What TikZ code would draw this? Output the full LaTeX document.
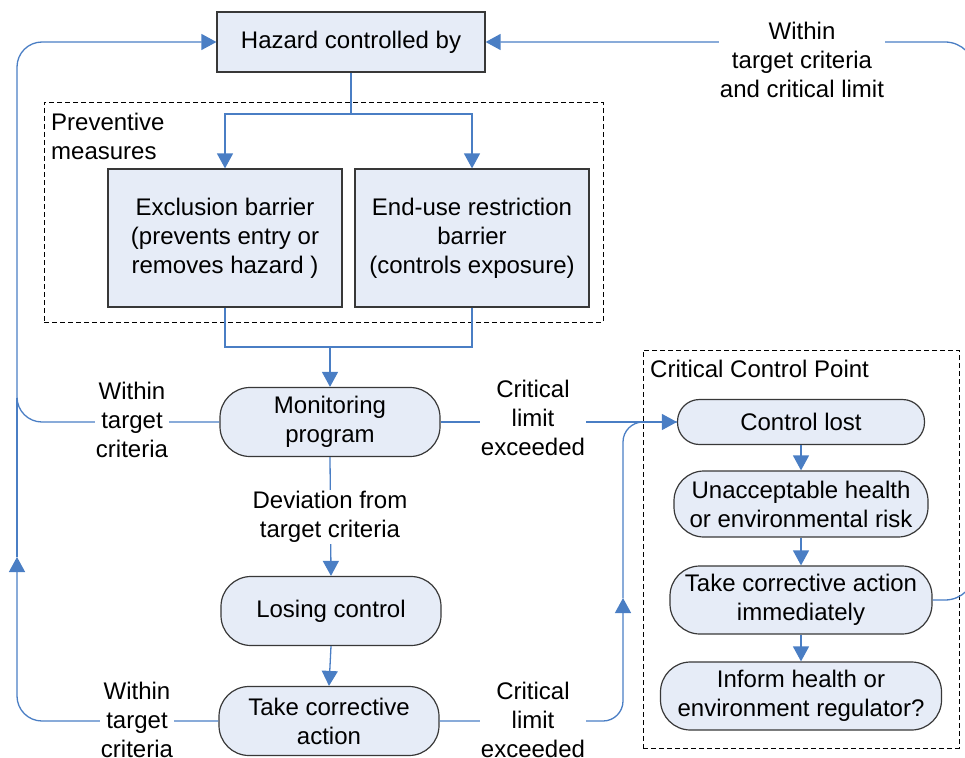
\documentclass[tikz,border=0pt]{standalone}
\usepackage{fontspec}
\setmainfont{Liberation Sans}
\usetikzlibrary{arrows.meta}
\definecolor{lineblue}{HTML}{4A7EC4}
\definecolor{boxfill}{HTML}{E6ECF7}
\definecolor{boxdraw}{HTML}{383838}
\begin{document}
\begin{tikzpicture}[x=1pt,y=-1pt, font=\fontsize{24}{29}\selectfont,
  box/.style={draw=boxdraw, fill=boxfill, line width=1.2pt, inner sep=0pt, align=center},
  rbox/.style={box, rounded corners=30pt},
  flow/.style={draw=lineblue, line width=1.3pt},
  arr/.style={flow, -{Triangle[length=15pt,width=16pt]}},
  lbl/.style={fill=white, inner sep=1pt, align=center},
  grp/.style={draw=black, dash pattern=on 5pt off 3pt, line width=0.9pt, inner sep=0pt}]
\useasboundingbox (0,0) rectangle (965,757);
\clip (0,0) rectangle (965,757);
% groups
\node[grp, minimum width=559pt, minimum height=220pt] (prevgrp) at (323.5,212) {};
\node[grp, minimum width=316pt, minimum height=398pt] (ccpgrp) at (801,549) {};
\node[anchor=north west, inner sep=0pt, align=left] (prevlbl) at (51,113) {Preventive\\measures};
\node[anchor=north west, inner sep=0pt] (ccplbl) at (650,360) {Critical Control Point};
% main nodes
\node[box, minimum width=268pt, minimum height=60pt] (haz) at (351,42) {Hazard controlled by};
\node[box, minimum width=234pt, minimum height=138pt] (excl) at (225,238) {Exclusion barrier\\(prevents entry or\\removes hazard )};
\node[box, minimum width=234pt, minimum height=138pt] (enduse) at (472,238) {End-use restriction\\barrier\\(controls exposure)};
\node[rbox, minimum width=220pt, minimum height=69pt] (mon) at (330,422) {Monitoring\\program};
\node[rbox, minimum width=220pt, minimum height=69pt] (lose) at (331,611) {Losing control};
\node[rbox, minimum width=220pt, minimum height=69pt] (tca) at (329,721) {Take corrective\\action};
% CCP nodes
\node[rbox, rounded corners=22pt, minimum width=247pt, minimum height=45pt] (ctrl) at (801,422) {Control lost};
\node[rbox, minimum width=254pt, minimum height=66pt] (unacc) at (801,504) {Unacceptable health\\or environmental risk};
\node[rbox, minimum width=262pt, minimum height=68pt] (tcai) at (801,600) {Take corrective action\\immediately};
\node[rbox, minimum width=281pt, minimum height=68pt] (inform) at (801,696) {Inform health or\\environment regulator?};
% coordinates
\coordinate (hsplit) at (351,114);
\coordinate (bjoin) at (330,347);
\coordinate (lmid) at (17,422);
\coordinate (ltop) at (17,42);
\coordinate (lbot) at (17,721);
\coordinate (larrow) at (17,557);
\coordinate (ljoin) at (17,398);
\coordinate (rbot) at (623,721);
\coordinate (rarrow) at (623,598);
\coordinate (rtop) at (623,422);
\coordinate (rrb) at (975,600);
\coordinate (rrt) at (975,42);
% connectors
\draw[flow] (haz.south) -- (hsplit);
\draw[arr] (hsplit) -| (excl.north);
\draw[arr] (hsplit) -| (enduse.north);
\draw[flow] (excl.south) |- (bjoin);
\draw[flow] (enduse.south) |- (bjoin);
\draw[arr] (bjoin) -- (mon.north);
\draw[arr] (mon.south) -- (lose.north);
\draw[arr] (lose.south) -- (tca.north);
\draw[arr] (mon.east) -- (ctrl.west);
\draw[arr, rounded corners=25pt] (mon.west) -- (lmid) -- (ltop) -- (haz.west);
\draw[arr, rounded corners=25pt] (tca.west) -- (lbot) -- (larrow);
\draw[flow] (larrow) -- (ljoin);
\draw[arr, rounded corners=20pt] (tca.east) -- (rbot) -- (rarrow);
\draw[flow, rounded corners=20pt] (rarrow) -- (rtop) -- (ctrl.west);
\draw[arr, rounded corners=30pt] (tcai.east) -- (rrb) -- (rrt) -- (haz.east);
\draw[arr] (ctrl.south) -- (unacc.north);
\draw[arr] (unacc.south) -- (tcai.north);
\draw[arr] (tcai.south) -- (inform.north);
% labels
\node[lbl] (l1) at (132,420) {Within\\target\\criteria};
\node[lbl] (l2) at (533,418) {Critical\\limit\\exceeded};
\node[lbl] (l3) at (330,517) {Deviation from\\target criteria};
\node[lbl] (l4) at (137,720) {Within\\target\\criteria};
\node[lbl] (l5) at (533,720) {Critical\\limit\\exceeded};
\node[lbl] (l6) at (802,60) {Within\\target criteria\\and critical limit};
\end{tikzpicture}
\end{document}
